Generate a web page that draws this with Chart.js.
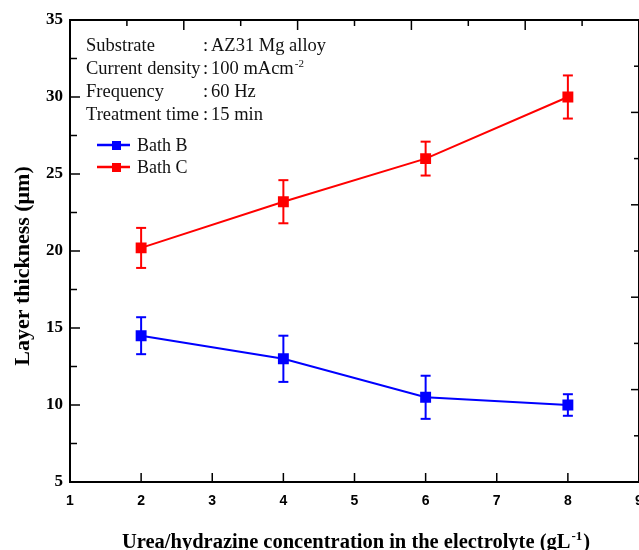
<!DOCTYPE html>
<html>
<head>
<meta charset="utf-8">
<script src="https://cdn.jsdelivr.net/npm/chart.js@4.4.1/dist/chart.umd.min.js"></script>
<style>
  html, body { margin: 0; padding: 0; background: #fff; }
  #chart { display: block; }
</style>
</head>
<body>
<canvas id="chart" width="639" height="550"></canvas>
<script>
// ---------- Data ----------
const concentrations = [2, 4, 6, 8];
const bathB = [14.5, 13.0, 10.5, 10.0];
const bathBErr = [1.2, 1.5, 1.4, 0.7];
const bathC = [20.2, 23.2, 26.0, 30.0];
const bathCErr = [1.3, 1.4, 1.1, 1.4];

const conditionLabels = ["Substrate", "Current density", "Frequency", "Treatment time"];
const conditionValues = ["AZ31 Mg alloy", "100 mAcm", "60 Hz", "15 min"];
const conditionSups = ["", "-2", "", ""];

const BLUE = "#0000ff";
const RED = "#ff0000";
const SERIF = "'Liberation Serif', 'Times New Roman', serif";
const SANS = "'Liberation Sans', Arial, sans-serif";

function points(ys) {
  return concentrations.map((x, i) => ({ x, y: ys[i] }));
}

// ---------- Helpers ----------
function line(ctx, x1, y1, x2, y2) {
  ctx.beginPath();
  ctx.moveTo(x1, y1);
  ctx.lineTo(x2, y2);
  ctx.stroke();
}

// text with an optional superscript tail, returns end x
function textSup(ctx, text, sup, x, y, size, weight) {
  ctx.font = `${weight} ${size}px ${SERIF}`;
  ctx.fillText(text, x, y);
  let end = x + ctx.measureText(text).width;
  if (sup) {
    ctx.font = `${weight} ${Math.round(size * 0.62)}px ${SERIF}`;
    ctx.fillText(sup, end + 1, y - size * 0.38);
    end += 1 + ctx.measureText(sup).width;
  }
  return end;
}

// keep the plot frame where it is, no room made for overhanging labels
function fixSize(prop, size) {
  return (s) => {
    s[prop] = size;
    s.paddingLeft = s.paddingRight = s.paddingTop = s.paddingBottom = 0;
  };
}

// ---------- Plugins ----------
const errorBars = {
  id: "errorBars",
  afterDatasetsDraw(chart) {
    const { ctx } = chart;
    const y = chart.scales.y;
    chart.data.datasets.forEach((ds, di) => {
      const meta = chart.getDatasetMeta(di);
      ctx.save();
      ctx.strokeStyle = ds.borderColor;
      ctx.lineWidth = 2;
      meta.data.forEach((pt, i) => {
        const v = ds.data[i].y;
        const e = ds.errors[i];
        const top = y.getPixelForValue(v + e);
        const bot = y.getPixelForValue(v - e);
        line(ctx, pt.x, top, pt.x, bot);
        line(ctx, pt.x - 5, top, pt.x + 5, top);
        line(ctx, pt.x - 5, bot, pt.x + 5, bot);
      });
      ctx.restore();
    });
  }
};

const innerTicks = {
  id: "innerTicks",
  afterDraw(chart) {
    const { ctx, chartArea: a, scales } = chart;
    ctx.save();
    ctx.strokeStyle = "#000";
    ctx.lineWidth = 1.5;
    // bottom
    for (let v = 2; v <= 8; v++) {
      const px = scales.x.getPixelForValue(v);
      line(ctx, px, a.bottom, px, a.bottom - 9);
    }
    // left: majors and minors
    for (let v = 7.5; v < 35; v += 2.5) {
      const py = scales.y.getPixelForValue(v);
      const len = v % 5 === 0 ? 10 : 7;
      line(ctx, a.left, py, a.left + len, py);
    }
    // top
    for (let v = 1; v <= 9; v++) {
      const px = scales.x2.getPixelForValue(v);
      line(ctx, px, a.top, px, a.top + (v % 2 === 0 ? 10 : 6));
    }
    // right
    for (let v = 1; v <= 9; v++) {
      const py = scales.y2.getPixelForValue(v);
      line(ctx, a.right, py, a.right - (v % 2 === 0 ? 8 : 5), py);
    }
    ctx.restore();
  }
};

const annotations = {
  id: "annotations",
  afterDraw(chart) {
    const { ctx } = chart;
    ctx.save();
    ctx.fillStyle = "#111";
    ctx.textBaseline = "alphabetic";
    ctx.textAlign = "left";
    const rows = [51, 74, 97, 120];
    conditionLabels.forEach((lab, i) => {
      ctx.font = `18.5px ${SERIF}`;
      ctx.fillText(lab, 86, rows[i]);
      ctx.fillText(":", 203, rows[i]);
      textSup(ctx, conditionValues[i], conditionSups[i], 211, rows[i], 18.5, "normal");
    });

    // legend
    const legend = [["Bath B", BLUE, 145], ["Bath C", RED, 167]];
    legend.forEach(([name, color, ly]) => {
      ctx.strokeStyle = color;
      ctx.fillStyle = color;
      ctx.lineWidth = 2.5;
      line(ctx, 97, ly, 130, ly);
      ctx.fillRect(112, ly - 4, 9, 9);
      ctx.fillStyle = "#111";
      ctx.font = `18px ${SERIF}`;
      ctx.textBaseline = "middle";
      ctx.fillText(name, 137, ly + 1);
    });

    // axis titles
    ctx.fillStyle = "#000";
    ctx.textBaseline = "alphabetic";
    const fs = 20.5;
    ctx.font = `bold ${fs}px ${SERIF}`;
    const xt = "Urea/hydrazine concentration in the electrolyte (gL";
    const wMain = ctx.measureText(xt).width;
    ctx.font = `bold 13px ${SERIF}`;
    const wSup = ctx.measureText("-1").width;
    ctx.font = `bold ${fs}px ${SERIF}`;
    const wEnd = ctx.measureText(")").width;
    const x0 = 356 - (wMain + wSup + 2 + wEnd) / 2;
    const xe = textSup(ctx, xt, "-1", x0, 548, fs, "bold");
    ctx.font = `bold ${fs}px ${SERIF}`;
    ctx.fillText(")", xe + 1, 548);

    ctx.save();
    ctx.translate(29, 266);
    ctx.rotate(-Math.PI / 2);
    ctx.textAlign = "center";
    ctx.font = `bold 22px ${SERIF}`;
    ctx.fillText("Layer thickness (\u03bcm)", 0, 0);
    ctx.restore();

    ctx.restore();
  }
};

// ---------- Chart ----------
const frame = { display: true, color: "#000", width: 2 };

new Chart(document.getElementById("chart"), {
  type: "line",
  data: {
    datasets: [
      {
        label: "Bath B",
        data: points(bathB),
        errors: bathBErr,
        borderColor: BLUE,
        backgroundColor: BLUE,
        borderWidth: 2,
        pointStyle: "rect",
        pointRadius: 6.3,
        pointHoverRadius: 6.3,
        tension: 0,
      },
      {
        label: "Bath C",
        data: points(bathC),
        errors: bathCErr,
        borderColor: RED,
        backgroundColor: RED,
        borderWidth: 2,
        pointStyle: "rect",
        pointRadius: 6.3,
        pointHoverRadius: 6.3,
        tension: 0,
      },
    ],
  },
  options: {
    responsive: false,
    animation: false,
    devicePixelRatio: 1,
    layout: { padding: 0, autoPadding: false },
    plugins: { legend: { display: false }, tooltip: { enabled: false } },
    scales: {
      x: {
        type: "linear",
        position: "bottom",
        min: 1,
        max: 9,
        ticks: {
          stepSize: 1,
          color: "#000",
          padding: 11,
          maxRotation: 0,
          autoSkip: false,
          font: { family: SANS, size: 14, weight: "bold" },
        },
        grid: { display: false, drawTicks: false },
        border: frame,
        afterFit: fixSize("height", 68),
      },
      x2: {
        type: "linear",
        position: "top",
        min: 0,
        max: 10,
        ticks: { display: false },
        grid: { display: false, drawTicks: false },
        border: frame,
        afterFit: fixSize("height", 20),
      },
      y: {
        type: "linear",
        position: "left",
        min: 5,
        max: 35,
        ticks: {
          stepSize: 5,
          color: "#000",
          padding: 7,
          font: { family: SERIF, size: 17, weight: "bold" },
        },
        grid: { display: false, drawTicks: false },
        border: frame,
        afterFit: fixSize("width", 70),
      },
      y2: {
        type: "linear",
        position: "right",
        min: 0,
        max: 10,
        ticks: { display: false },
        grid: { display: false, drawTicks: false },
        border: frame,
        afterFit: fixSize("width", -1),
      },
    },
  },
  plugins: [errorBars, innerTicks, annotations],
});
</script>
</body>
</html>
